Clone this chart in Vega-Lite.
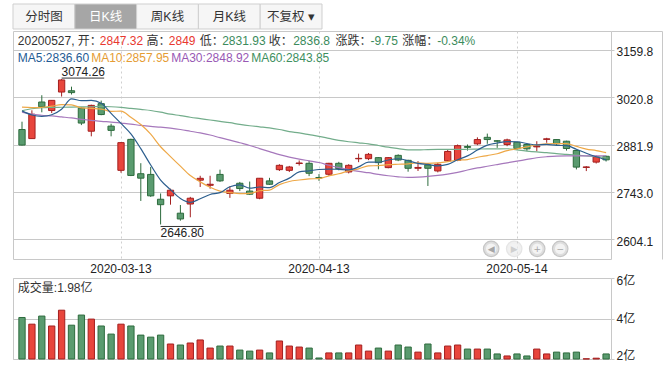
{
"$schema": "https://vega.github.io/schema/vega-lite/v6.json",
"padding": {"left": 12, "top": 3, "right": 0, "bottom": 0},
"background": "#ffffff",
"config": {"font": "'Liberation Sans', 'Noto Sans CJK SC', sans-serif", "view": {"stroke": null}},
"datasets": {
"k": [
{"d":"2020-02-28","o":2926,"h":2949,"l":2879,"c":2880.3,"v":4.05,"m5":2980.8,"m10":2991.8,"m30":2977,"m60":2981},
{"d":"2020-03-02","o":2899.3,"h":2982.5,"l":2899.3,"c":2970.9,"v":3.72,"m5":2968.7,"m10":2990.5,"m30":2971,"m60":2987},
{"d":"2020-03-03","o":3006.9,"h":3026.8,"l":2976.6,"c":2992.9,"v":4.12,"m5":2964.7,"m10":2991.3,"m30":2968,"m60":2990},
{"d":"2020-03-04","o":2981.8,"h":3012,"l":2974.4,"c":3011.7,"v":3.63,"m5":2969.4,"m10":2994.9,"m30":2966,"m60":2991},
{"d":"2020-03-05","o":3036.2,"h":3074.26,"l":3022.9,"c":3071.7,"v":4.41,"m5":2985.5,"m10":2999.1,"m30":2963,"m60":2991.5},
{"d":"2020-03-06","o":3040,"h":3052,"l":3029,"c":3034.5,"v":3.67,"m5":3016.3,"m10":2998.6,"m30":2960,"m60":2992},
{"d":"2020-03-09","o":2989,"h":2992,"l":2939,"c":2945,"v":4.17,"m5":3010.8,"m10":2989.8,"m30":2956,"m60":2992.5},
{"d":"2020-03-10","o":2921,"h":2999,"l":2906,"c":2997,"v":3.97,"m5":3011.6,"m10":2988.1,"m30":2953,"m60":2993},
{"d":"2020-03-11","o":3002,"h":3011,"l":2968,"c":2970,"v":3.63,"m5":3003.0,"m10":2986.2,"m30":2950,"m60":2994},
{"d":"2020-03-12","o":2936,"h":2943,"l":2906,"c":2923.5,"v":3.23,"m5":2973.3,"m10":2979.4,"m30":2948,"m60":2993},
{"d":"2020-03-13","o":2806,"h":2889,"l":2799,"c":2887.4,"v":3.72,"m5":2943.9,"m10":2980.1,"m30":2945,"m60":2991},
{"d":"2020-03-16","o":2897,"h":2899,"l":2789,"c":2791,"v":3.63,"m5":2913.1,"m10":2962.0,"m30":2942,"m60":2988},
{"d":"2020-03-17","o":2796,"h":2827,"l":2716,"c":2783,"v":3.18,"m5":2869.7,"m10":2940.6,"m30":2938,"m60":2985},
{"d":"2020-03-18","o":2794,"h":2816,"l":2728,"c":2731,"v":3.08,"m5":2821.7,"m10":2912.3,"m30":2935,"m60":2982},
{"d":"2020-03-19","o":2721,"h":2738,"l":2646.8,"c":2705,"v":3.18,"m5":2777.4,"m10":2875.4,"m30":2933,"m60":2977},
{"d":"2020-03-20","o":2731,"h":2752,"l":2705,"c":2747.5,"v":2.74,"m5":2749.1,"m10":2846.5,"m30":2930,"m60":2971},
{"d":"2020-03-23","o":2680,"h":2704,"l":2658,"c":2663,"v":2.69,"m5":2723.3,"m10":2818.2,"m30":2926,"m60":2967},
{"d":"2020-03-24","o":2707,"h":2728,"l":2668,"c":2724,"v":2.79,"m5":2711.8,"m10":2790.7,"m30":2921,"m60":2962},
{"d":"2020-03-25","o":2777,"h":2790,"l":2757,"c":2782.5,"v":2.94,"m5":2722.4,"m10":2772.1,"m30":2916,"m60":2958},
{"d":"2020-03-26","o":2762,"h":2790,"l":2752,"c":2765,"v":2.54,"m5":2734.9,"m10":2756.2,"m30":2910,"m60":2954},
{"d":"2020-03-27","o":2794,"h":2808,"l":2772,"c":2775,"v":2.64,"m5":2740.3,"m10":2744.7,"m30":2902,"m60":2950},
{"d":"2020-03-30","o":2738,"h":2759,"l":2725,"c":2747.5,"v":2.64,"m5":2757.7,"m10":2740.5,"m30":2895,"m60":2946},
{"d":"2020-03-31","o":2768,"h":2772,"l":2745,"c":2752.4,"v":2.44,"m5":2763.2,"m10":2737.5,"m30":2887,"m60":2941},
{"d":"2020-04-01","o":2745,"h":2773,"l":2734,"c":2735.8,"v":2.39,"m5":2753.8,"m10":2738.1,"m30":2879,"m60":2937},
{"d":"2020-04-02","o":2724,"h":2783,"l":2721,"c":2782.7,"v":2.44,"m5":2757.0,"m10":2745.9,"m30":2870,"m60":2934},
{"d":"2020-04-03","o":2775,"h":2784,"l":2763,"c":2765,"v":2.30,"m5":2755.3,"m10":2747.8,"m30":2861,"m60":2931},
{"d":"2020-04-07","o":2808,"h":2824,"l":2804,"c":2820.7,"v":2.89,"m5":2770.0,"m10":2763.9,"m30":2852,"m60":2926},
{"d":"2020-04-08","o":2806,"h":2819,"l":2801,"c":2815.8,"v":2.64,"m5":2783.1,"m10":2773.2,"m30":2845,"m60":2920},
{"d":"2020-04-09","o":2826,"h":2835,"l":2820,"c":2827.6,"v":2.59,"m5":2801.3,"m10":2777.6,"m30":2839,"m60":2916},
{"d":"2020-04-10","o":2826.6,"h":2834,"l":2789,"c":2797.4,"v":2.54,"m5":2804.5,"m10":2780.8,"m30":2834,"m60":2911},
{"d":"2020-04-13","o":2785,"h":2795,"l":2775,"c":2783.5,"v":2.05,"m5":2808.4,"m10":2781.8,"m30":2829,"m60":2906},
{"d":"2020-04-14","o":2794.4,"h":2828,"l":2790,"c":2826.6,"v":2.30,"m5":2809.7,"m10":2789.9,"m30":2821,"m60":2900},
{"d":"2020-04-15","o":2826.6,"h":2831,"l":2806,"c":2811,"v":2.30,"m5":2808.8,"m10":2795.9,"m30":2814,"m60":2894},
{"d":"2020-04-16","o":2801.2,"h":2824,"l":2797,"c":2820.7,"v":2.30,"m5":2807.6,"m10":2804.5,"m30":2808,"m60":2890},
{"d":"2020-04-17","o":2840,"h":2855,"l":2830,"c":2841.2,"v":2.69,"m5":2816.0,"m10":2810.3,"m30":2803,"m60":2887},
{"d":"2020-04-20","o":2840.3,"h":2857,"l":2836,"c":2853,"v":2.39,"m5":2829.9,"m10":2819.1,"m30":2799,"m60":2884},
{"d":"2020-04-21","o":2843.3,"h":2845,"l":2809,"c":2828.6,"v":2.54,"m5":2829.8,"m10":2819.8,"m30":2794,"m60":2879},
{"d":"2020-04-22","o":2814,"h":2845,"l":2812,"c":2843.3,"v":2.39,"m5":2836.4,"m10":2822.6,"m30":2790,"m60":2874},
{"d":"2020-04-23","o":2850,"h":2853,"l":2833,"c":2836.4,"v":2.69,"m5":2840.1,"m10":2823.9,"m30":2787,"m60":2870},
{"d":"2020-04-24","o":2835.4,"h":2837,"l":2802,"c":2812,"v":2.59,"m5":2834.1,"m10":2825.1,"m30":2785,"m60":2866},
{"d":"2020-04-27","o":2812,"h":2833,"l":2804,"c":2814.5,"v":2.34,"m5":2826.7,"m10":2828.3,"m30":2786,"m60":2866},
{"d":"2020-04-28","o":2821.7,"h":2823,"l":2760,"c":2812,"v":2.74,"m5":2823.3,"m10":2826.6,"m30":2788,"m60":2867},
{"d":"2020-04-29","o":2804.2,"h":2828,"l":2800,"c":2823.7,"v":2.30,"m5":2819.0,"m10":2827.7,"m30":2791,"m60":2867.5},
{"d":"2020-04-30","o":2834,"h":2868,"l":2832,"c":2861.5,"v":2.64,"m5":2823.3,"m10":2831.7,"m30":2795,"m60":2867.6},
{"d":"2020-05-06","o":2835.4,"h":2882,"l":2833,"c":2878.5,"v":2.69,"m5":2837.2,"m10":2835.7,"m30":2800,"m60":2867.6},
{"d":"2020-05-07","o":2876,"h":2882,"l":2864,"c":2873.5,"v":2.49,"m5":2848.4,"m10":2837.6,"m30":2807,"m60":2868},
{"d":"2020-05-08","o":2883.8,"h":2903,"l":2880,"c":2896.5,"v":2.49,"m5":2865.5,"m10":2844.4,"m30":2813,"m60":2868.5},
{"d":"2020-05-11","o":2903,"h":2914,"l":2884,"c":2896.5,"v":2.49,"m5":2880.0,"m10":2849.5,"m30":2818,"m60":2869},
{"d":"2020-05-12","o":2893,"h":2895,"l":2872,"c":2891.6,"v":2.25,"m5":2886.3,"m10":2854.8,"m30":2823,"m60":2869.3},
{"d":"2020-05-13","o":2882,"h":2899,"l":2877,"c":2895.5,"v":2.15,"m5":2890.4,"m10":2863.8,"m30":2828,"m60":2869.5},
{"d":"2020-05-14","o":2888.6,"h":2889,"l":2866,"c":2870.1,"v":2.25,"m5":2890.1,"m10":2869.3,"m30":2833,"m60":2866},
{"d":"2020-05-15","o":2881.9,"h":2883,"l":2863,"c":2869.2,"v":2.15,"m5":2884.8,"m10":2875.1,"m30":2838,"m60":2862.7},
{"d":"2020-05-18","o":2875,"h":2891.6,"l":2862,"c":2877,"v":2.49,"m5":2880.9,"m10":2880.4,"m30":2843,"m60":2860},
{"d":"2020-05-19","o":2897,"h":2901.7,"l":2887,"c":2898.6,"v":2.25,"m5":2882.2,"m10":2884.2,"m30":2846,"m60":2857.8},
{"d":"2020-05-20","o":2896.5,"h":2898,"l":2880,"c":2883.8,"v":2.34,"m5":2879.2,"m10":2884.8,"m30":2848,"m60":2855},
{"d":"2020-05-21","o":2891.6,"h":2893,"l":2864,"c":2870.1,"v":2.30,"m5":2878.7,"m10":2884.4,"m30":2848.5,"m60":2852.9},
{"d":"2020-05-22","o":2864.3,"h":2867.2,"l":2808.7,"c":2815.5,"v":2.34,"m5":2867.8,"m10":2876.3,"m30":2848.5,"m60":2850.5},
{"d":"2020-05-25","o":2814.5,"h":2818.4,"l":2803.8,"c":2816,"v":2.01,"m5":2856.3,"m10":2868.6,"m30":2848.7,"m60":2848.1},
{"d":"2020-05-26","o":2830.2,"h":2849.7,"l":2826,"c":2845.8,"v":2.04,"m5":2846.0,"m10":2864.1,"m30":2848.8,"m60":2846},
{"d":"2020-05-27","o":2847.32,"h":2849,"l":2831.93,"c":2836.8,"v":2.25,"m5":2836.6,"m10":2857.95,"m30":2848.92,"m60":2843.85}
],
"tabs": [
{"t":"分时图","on":0},{"t":"日K线","on":1},{"t":"周K线","on":0},{"t":"月K线","on":0},{"t":"不复权 ▾","on":0}
]
},
"bounds": "flush",
"spacing": 2,
"resolve": {"scale": {"x": "independent", "y": "independent"}},
"vconcat": [
{
 "width": 309, "height": 25,
 "data": {"name": "tabs"},
 "encoding": {"x": {"field": "t", "type": "nominal", "sort": null, "scale": {"type": "band", "paddingInner": 0, "paddingOuter": 0}, "axis": null}},
 "layer": [
  {"mark": {"type": "rect", "stroke": "#cfcfcf", "strokeWidth": 1},
   "encoding": {"fill": {"condition": {"test": "datum.on == 1", "value": "#a6a6a6"}, "value": "#f6f6f6"}}},
  {"mark": {"type": "text", "fontSize": 12.5, "baseline": "middle", "align": "center"},
   "encoding": {"text": {"field": "t"}, "fill": {"condition": {"test": "datum.on == 1", "value": "#ffffff"}, "value": "#333333"}}}
 ]
},
{
 "bounds": "flush",
 "spacing": 19,
 "resolve": {"scale": {"x": "independent", "y": "independent"}},
 "vconcat": [
 {
  "width": 598, "height": 228,
  "view": {"stroke": "#c8c8c8"},
  "resolve": {"scale": {"x": "independent", "y": "independent"}},
  "layer": [
   {
    "data": {"name": "k"},
    "encoding": {"x": {"field": "d", "type": "ordinal", "sort": null,
      "scale": {"type": "band", "paddingInner": 0.364, "paddingOuter": 0.384, "align": 0.77},
      "axis": {"orient": "bottom", "values": ["2020-03-13","2020-04-13","2020-05-14"], "bandPosition": 0.5, "grid": true, "gridDash": [2,3], "gridColor": "#cfcfcf", "ticks": false, "domain": false, "labelFontSize": 12, "labelColor": "#222222", "labelPadding": 4, "labelAngle": 0, "title": null}}},
    "layer": [
     {"mark": {"type": "rule", "strokeWidth": 1},
      "encoding": {"y": {"field": "l", "type": "quantitative", "scale": {"domain": [2545.3, 3215.66], "zero": false, "nice": false},
         "axis": {"orient": "right", "values": [2604.1, 2743.0, 2881.9, 3020.8, 3159.8], "format": ".1f", "grid": true, "gridColor": "#c8c8c8", "tickColor": "#c8c8c8", "tickSize": 3, "domain": false, "labelFontSize": 12, "labelColor": "#222222", "labelPadding": 2, "labelOffset": 2, "labelFlush": false, "title": null}},
       "y2": {"field": "h"},
       "stroke": {"condition": {"test": "datum.c >= datum.o", "value": "#a31f1f"}, "value": "#2d6b3d"}}},
     {"mark": {"type": "bar", "strokeWidth": 1},
      "encoding": {"y": {"field": "o", "type": "quantitative", "scale": {"domain": [2545.3, 3215.66], "zero": false, "nice": false},
         "axis": {"orient": "right", "values": [2604.1, 2743.0, 2881.9, 3020.8, 3159.8], "format": ".1f", "grid": true, "gridColor": "#c8c8c8", "tickColor": "#c8c8c8", "tickSize": 3, "domain": false, "labelFontSize": 12, "labelColor": "#222222", "labelPadding": 2, "labelOffset": 2, "labelFlush": false, "title": null}},
       "y2": {"field": "c"},
       "fill": {"condition": {"test": "datum.c >= datum.o", "value": "#e8453c"}, "value": "#5a9b6f"},
       "stroke": {"condition": {"test": "datum.c >= datum.o", "value": "#a31f1f"}, "value": "#2d6b3d"}}},
     {"mark": {"type": "line", "stroke": "#73ad8b", "strokeWidth": 1.2, "interpolate": "monotone"},
      "encoding": {"y": {"field": "m60", "type": "quantitative", "scale": {"domain": [2545.3, 3215.66], "zero": false, "nice": false},
         "axis": {"orient": "right", "values": [2604.1, 2743.0, 2881.9, 3020.8, 3159.8], "format": ".1f", "grid": true, "gridColor": "#c8c8c8", "tickColor": "#c8c8c8", "tickSize": 3, "domain": false, "labelFontSize": 12, "labelColor": "#222222", "labelPadding": 2, "labelOffset": 2, "labelFlush": false, "title": null}}}},
     {"mark": {"type": "line", "stroke": "#a678bc", "strokeWidth": 1.2, "interpolate": "monotone"},
      "encoding": {"y": {"field": "m30", "type": "quantitative", "scale": {"domain": [2545.3, 3215.66], "zero": false, "nice": false},
         "axis": {"orient": "right", "values": [2604.1, 2743.0, 2881.9, 3020.8, 3159.8], "format": ".1f", "grid": true, "gridColor": "#c8c8c8", "tickColor": "#c8c8c8", "tickSize": 3, "domain": false, "labelFontSize": 12, "labelColor": "#222222", "labelPadding": 2, "labelOffset": 2, "labelFlush": false, "title": null}}}},
     {"mark": {"type": "line", "stroke": "#eea847", "strokeWidth": 1.2, "interpolate": "monotone"},
      "encoding": {"y": {"field": "m10", "type": "quantitative", "scale": {"domain": [2545.3, 3215.66], "zero": false, "nice": false},
         "axis": {"orient": "right", "values": [2604.1, 2743.0, 2881.9, 3020.8, 3159.8], "format": ".1f", "grid": true, "gridColor": "#c8c8c8", "tickColor": "#c8c8c8", "tickSize": 3, "domain": false, "labelFontSize": 12, "labelColor": "#222222", "labelPadding": 2, "labelOffset": 2, "labelFlush": false, "title": null}}}},
     {"mark": {"type": "line", "stroke": "#2c5e8e", "strokeWidth": 1.2, "interpolate": "monotone"},
      "encoding": {"y": {"field": "m5", "type": "quantitative", "scale": {"domain": [2545.3, 3215.66], "zero": false, "nice": false},
         "axis": {"orient": "right", "values": [2604.1, 2743.0, 2881.9, 3020.8, 3159.8], "format": ".1f", "grid": true, "gridColor": "#c8c8c8", "tickColor": "#c8c8c8", "tickSize": 3, "domain": false, "labelFontSize": 12, "labelColor": "#222222", "labelPadding": 2, "labelOffset": 2, "labelFlush": false, "title": null}}}},
     {"transform": [{"filter": "datum.d == '2020-03-05'"}],
      "mark": {"type": "rule", "stroke": "#333333", "strokeWidth": 1, "yOffset": -1, "x2Offset": 3},
      "encoding": {"y": {"field": "h", "type": "quantitative", "scale": {"domain": [2545.3, 3215.66], "zero": false, "nice": false},
         "axis": {"orient": "right", "values": [2604.1, 2743.0, 2881.9, 3020.8, 3159.8], "format": ".1f", "grid": true, "gridColor": "#c8c8c8", "tickColor": "#c8c8c8", "tickSize": 3, "domain": false, "labelFontSize": 12, "labelColor": "#222222", "labelPadding": 2, "labelOffset": 2, "labelFlush": false, "title": null}},
       "x2": {"datum": "2020-03-11"}}},
     {"transform": [{"filter": "datum.d == '2020-03-05'"}],
      "mark": {"type": "text", "align": "left", "baseline": "bottom", "dy": -0.5, "fontSize": 12, "color": "#222222"},
      "encoding": {"y": {"field": "h", "type": "quantitative", "scale": {"domain": [2545.3, 3215.66], "zero": false, "nice": false},
         "axis": {"orient": "right", "values": [2604.1, 2743.0, 2881.9, 3020.8, 3159.8], "format": ".1f", "grid": true, "gridColor": "#c8c8c8", "tickColor": "#c8c8c8", "tickSize": 3, "domain": false, "labelFontSize": 12, "labelColor": "#222222", "labelPadding": 2, "labelOffset": 2, "labelFlush": false, "title": null}},
       "text": {"field": "h", "type": "quantitative", "format": ".2f"}}},
     {"transform": [{"filter": "datum.d == '2020-03-19'"}],
      "mark": {"type": "rule", "stroke": "#333333", "strokeWidth": 1, "yOffset": 2, "x2Offset": 3},
      "encoding": {"y": {"field": "l", "type": "quantitative", "scale": {"domain": [2545.3, 3215.66], "zero": false, "nice": false},
         "axis": {"orient": "right", "values": [2604.1, 2743.0, 2881.9, 3020.8, 3159.8], "format": ".1f", "grid": true, "gridColor": "#c8c8c8", "tickColor": "#c8c8c8", "tickSize": 3, "domain": false, "labelFontSize": 12, "labelColor": "#222222", "labelPadding": 2, "labelOffset": 2, "labelFlush": false, "title": null}},
       "x2": {"datum": "2020-03-25"}}},
     {"transform": [{"filter": "datum.d == '2020-03-19'"}],
      "mark": {"type": "text", "align": "left", "baseline": "top", "dy": 4, "fontSize": 12, "color": "#222222"},
      "encoding": {"y": {"field": "l", "type": "quantitative", "scale": {"domain": [2545.3, 3215.66], "zero": false, "nice": false},
         "axis": {"orient": "right", "values": [2604.1, 2743.0, 2881.9, 3020.8, 3159.8], "format": ".1f", "grid": true, "gridColor": "#c8c8c8", "tickColor": "#c8c8c8", "tickSize": 3, "domain": false, "labelFontSize": 12, "labelColor": "#222222", "labelPadding": 2, "labelOffset": 2, "labelFlush": false, "title": null}},
       "text": {"field": "l", "type": "quantitative", "format": ".2f"}}}
    ]
   },
   {
    "data": {"values": [{"f": 0}, {"f": 1}]},
    "mark": {"type": "point", "opacity": 0},
    "encoding": {
     "x": {"field": "f", "type": "quantitative", "scale": {"domain": [0, 1], "range": [598, 649], "nice": false, "zero": false},
       "axis": {"orient": "top", "domain": true, "domainColor": "#c8c8c8", "ticks": false, "labels": false, "grid": false, "title": null}},
     "y": {"field": "f", "type": "quantitative", "scale": {"domain": [0, 1], "range": [228, 0], "nice": false, "zero": false},
       "axis": {"orient": "right", "offset": 51, "domain": true, "domainColor": "#c8c8c8", "ticks": false, "labels": false, "grid": false, "title": null}}
    }
   },
   {
    "data": {"values": [{"g": "◀"}, {"g": "▶"}, {"g": "+"}, {"g": "−"}]},
    "encoding": {
     "x": {"field": "g", "type": "nominal", "sort": null, "scale": {"type": "point", "range": [478.2, 547.2], "padding": 0}, "axis": null},
     "y": {"value": 217.8},
     "opacity": {"condition": {"test": "datum.g == '▶'", "value": 0.45}, "value": 1}
    },
    "layer": [
     {"mark": {"type": "point", "shape": "circle", "filled": true, "size": 240, "fill": "#dedede", "stroke": "#c6c6c6", "strokeWidth": 1.2}},
     {"mark": {"type": "point", "shape": "circle", "filled": true, "size": 110, "fill": "#f3f3f3"}},
     {"mark": {"type": "text", "fontSize": 9, "fill": "#a6a6a6", "baseline": "middle", "align": "center", "font": "DejaVu Sans"}, "encoding": {"text": {"field": "g"}}}
    ]
   },
   {"data": {"values": [{}]}, "mark": {"type": "text", "align": "left", "baseline": "middle", "fontSize": 12, "color": "#333333"}, "encoding": {"x": {"value": 4.8}, "y": {"value": 10.2}, "text": {"value": "20200527, 开："}}},
   {"data": {"values": [{}]}, "mark": {"type": "text", "align": "left", "baseline": "middle", "fontSize": 12, "color": "#e8382f"}, "encoding": {"x": {"value": 86.8}, "y": {"value": 10.2}, "text": {"value": "2847.32"}}},
   {"data": {"values": [{}]}, "mark": {"type": "text", "align": "left", "baseline": "middle", "fontSize": 12, "color": "#333333"}, "encoding": {"x": {"value": 133.5}, "y": {"value": 10.2}, "text": {"value": "高："}}},
   {"data": {"values": [{}]}, "mark": {"type": "text", "align": "left", "baseline": "middle", "fontSize": 12, "color": "#e8382f"}, "encoding": {"x": {"value": 155.8}, "y": {"value": 10.2}, "text": {"value": "2849"}}},
   {"data": {"values": [{}]}, "mark": {"type": "text", "align": "left", "baseline": "middle", "fontSize": 12, "color": "#333333"}, "encoding": {"x": {"value": 186.8}, "y": {"value": 10.2}, "text": {"value": "低："}}},
   {"data": {"values": [{}]}, "mark": {"type": "text", "align": "left", "baseline": "middle", "fontSize": 12, "color": "#3b8b5c"}, "encoding": {"x": {"value": 209.2}, "y": {"value": 10.2}, "text": {"value": "2831.93"}}},
   {"data": {"values": [{}]}, "mark": {"type": "text", "align": "left", "baseline": "middle", "fontSize": 12, "color": "#333333"}, "encoding": {"x": {"value": 255.8}, "y": {"value": 10.2}, "text": {"value": "收："}}},
   {"data": {"values": [{}]}, "mark": {"type": "text", "align": "left", "baseline": "middle", "fontSize": 12, "color": "#3b8b5c"}, "encoding": {"x": {"value": 280.2}, "y": {"value": 10.2}, "text": {"value": "2836.8"}}},
   {"data": {"values": [{}]}, "mark": {"type": "text", "align": "left", "baseline": "middle", "fontSize": 12, "color": "#333333"}, "encoding": {"x": {"value": 322.5}, "y": {"value": 10.2}, "text": {"value": "涨跌："}}},
   {"data": {"values": [{}]}, "mark": {"type": "text", "align": "left", "baseline": "middle", "fontSize": 12, "color": "#3b8b5c"}, "encoding": {"x": {"value": 357.5}, "y": {"value": 10.2}, "text": {"value": "-9.75"}}},
   {"data": {"values": [{}]}, "mark": {"type": "text", "align": "left", "baseline": "middle", "fontSize": 12, "color": "#333333"}, "encoding": {"x": {"value": 389.2}, "y": {"value": 10.2}, "text": {"value": "涨幅："}}},
   {"data": {"values": [{}]}, "mark": {"type": "text", "align": "left", "baseline": "middle", "fontSize": 12, "color": "#3b8b5c"}, "encoding": {"x": {"value": 424.2}, "y": {"value": 10.2}, "text": {"value": "-0.34%"}}},
   {"data": {"values": [{}]}, "mark": {"type": "text", "align": "left", "baseline": "middle", "fontSize": 12, "color": "#1f5b94"}, "encoding": {"x": {"value": 4.8}, "y": {"value": 26.8}, "text": {"value": "MA5:2836.60"}}},
   {"data": {"values": [{}]}, "mark": {"type": "text", "align": "left", "baseline": "middle", "fontSize": 12, "color": "#e59c34"}, "encoding": {"x": {"value": 78.2}, "y": {"value": 26.8}, "text": {"value": "MA10:2857.95"}}},
   {"data": {"values": [{}]}, "mark": {"type": "text", "align": "left", "baseline": "middle", "fontSize": 12, "color": "#9858b4"}, "encoding": {"x": {"value": 158.2}, "y": {"value": 26.8}, "text": {"value": "MA30:2848.92"}}},
   {"data": {"values": [{}]}, "mark": {"type": "text", "align": "left", "baseline": "middle", "fontSize": 12, "color": "#3e8f60"}, "encoding": {"x": {"value": 238.2}, "y": {"value": 26.8}, "text": {"value": "MA60:2843.85"}}}
  ]
 },
 {
  "width": 598, "height": 81,
  "view": {"stroke": "#c8c8c8"},
  "layer": [
   {"data": {"name": "k"},
    "mark": {"type": "bar", "strokeWidth": 1},
    "encoding": {
     "x": {"field": "d", "type": "ordinal", "sort": null, "scale": {"type": "band", "paddingInner": 0.364, "paddingOuter": 0.384, "align": 0.77}, "axis": null},
     "y": {"field": "v", "type": "quantitative", "scale": {"domain": [2, 6], "zero": false, "nice": false},
       "axis": {"orient": "right", "values": [2, 4, 6], "labelExpr": "datum.value + '亿'", "grid": true, "gridColor": "#c8c8c8", "tickColor": "#c8c8c8", "tickSize": 3, "domain": false, "labelFontSize": 12, "labelColor": "#222222", "labelPadding": 2, "labelFlush": true, "labelFlushOffset": 3, "title": null}},
     "y2": {"datum": 2},
     "fill": {"condition": {"test": "datum.c >= datum.o", "value": "#e8453c"}, "value": "#5a9b6f"},
     "stroke": {"condition": {"test": "datum.c >= datum.o", "value": "#a31f1f"}, "value": "#2d6b3d"}
    }},
   {"data": {"values": [{}]}, "mark": {"type": "text", "align": "left", "baseline": "middle", "fontSize": 12, "color": "#333333"}, "encoding": {"x": {"value": 4.8}, "y": {"value": 10}, "text": {"value": "成交量:1.98亿"}}}
  ]
 }
 ]
}
]
}
